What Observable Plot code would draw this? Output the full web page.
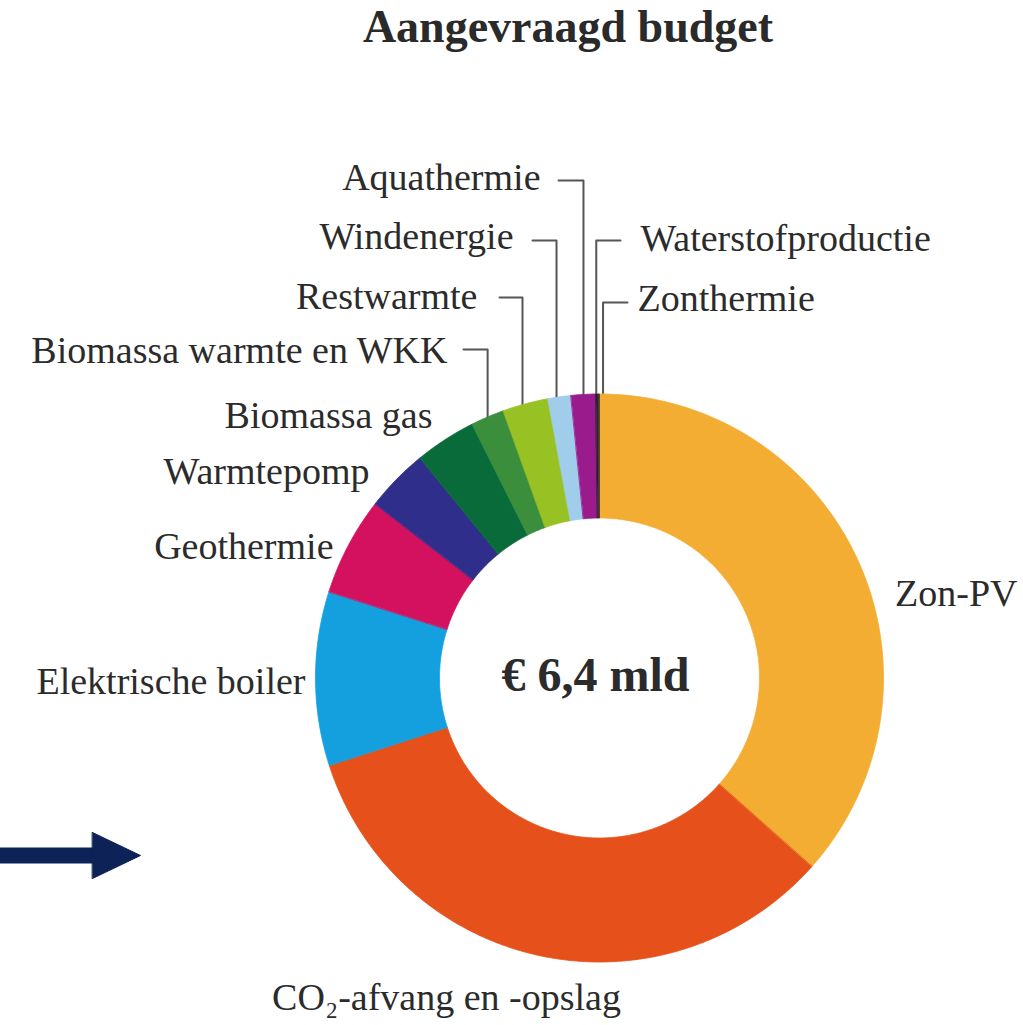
<!DOCTYPE html>
<html><head><meta charset="utf-8">
<script src="https://cdn.jsdelivr.net/npm/d3@7"></script>
<script src="https://cdn.jsdelivr.net/npm/@observablehq/plot@0.6"></script>
<style>
body{margin:0;background:#fff;width:1023px;height:1025px;overflow:hidden}
#title{height:65px;line-height:65px;font:bold 46px "Liberation Serif",serif;color:#2a2a2a;text-align:center;padding-left:113px;width:910px;white-space:nowrap}
#chart{height:960px}
</style></head><body>
<div id="title">Aangevraagd budget</div>
<div id="chart"></div>
<script>
// ---- data (share of requested budget, %) ----
const categories = ["Zon-PV","CO₂-afvang en -opslag","Elektrische boiler","Geothermie","Warmtepomp","Biomassa gas","Biomassa warmte en WKK","Restwarmte","Windenergie","Aquathermie","Waterstofproductie","Zonthermie"];
const shares = [36.6, 33.5, 9.9, 5.6, 3.6, 3.5, 1.9, 2.6, 1.3, 1.4, 0.15, 0.05];
const colors = ["#f4ad33","#e6511b","#149fdf","#d4115f","#2f2f8b","#0a6b3a","#3a8e3c","#98c224","#a0cdec","#9a1b8c","#2d1f33","#4a3b2a"];
const totalLabel = "€ 6,4 mld";

// ---- layout (page pixels) ----
const W = 1023, TOP = 65, H = 1025 - TOP;
const CX = 599, CY = 677.5, R_OUT = 284, R_IN = 160;
const labelLayout = {
  "Zon-PV": {x: 1017, y: 605, anchor: "end"},
  "CO₂-afvang en -opslag": {x: 446, y: 1009, anchor: "middle"},
  "Elektrische boiler": {x: 305, y: 693, anchor: "end"},
  "Geothermie": {x: 333, y: 558, anchor: "end"},
  "Warmtepomp": {x: 369, y: 483, anchor: "end"},
  "Biomassa gas": {x: 432, y: 427, anchor: "end"},
  "Biomassa warmte en WKK": {x: 447, y: 362, anchor: "end", leaderY: 349, leaderEnd: 463, nudge: 0},
  "Restwarmte": {x: 477, y: 308, anchor: "end", leaderY: 297, leaderEnd: 499, nudge: -3},
  "Windenergie": {x: 513, y: 248, anchor: "end", leaderY: 240, leaderEnd: 532, nudge: -3},
  "Aquathermie": {x: 540, y: 189, anchor: "end", leaderY: 180, leaderEnd: 558, nudge: 0},
  "Waterstofproductie": {x: 640, y: 250, anchor: "start", leaderY: 240, leaderEnd: 620, nudge: -1},
  "Zonthermie": {x: 637, y: 310, anchor: "start", leaderY: 302, leaderEnd: 627, nudge: 4}
};
const arrowShape = {y: 855, x0: 0, xHead: 92, xTip: 140, shaft: 16, headHalf: 23, color: "#0d2257"};

// ---- build slices from the data ----
const rows = categories.map((c, i) => ({name: c, value: shares[i], color: colors[i]}));
const arcs = d3.pie().sort(null).value(d => d.value)(rows);
const polyPts = [];
for (const a of arcs) {
  const n = Math.max(2, Math.ceil((a.endAngle - a.startAngle) / (Math.PI / 360)));
  const pts = [];
  for (let k = 0; k <= n; k++) {
    const t = a.startAngle + (a.endAngle - a.startAngle) * k / n;
    pts.push([CX + R_OUT * Math.sin(t), CY - R_OUT * Math.cos(t)]);
  }
  for (let k = n; k >= 0; k--) {
    const t = a.startAngle + (a.endAngle - a.startAngle) * k / n;
    pts.push([CX + R_IN * Math.sin(t), CY - R_IN * Math.cos(t)]);
  }
  pts.forEach(([x, y]) => polyPts.push({key: a.data.name, color: a.data.color, x, y}));
}

// leaders + labels
const leaderPts = [];
const labels = [];
for (const a of arcs) {
  const L = labelLayout[a.data.name];
  labels.push({name: a.data.name, x: L.x, y: L.y, anchor: L.anchor});
  if (L.leaderY !== undefined) {
    const mid = (a.startAngle + a.endAngle) / 2;
    const ax = CX + R_OUT * Math.sin(mid) + L.nudge;
    const ay = CY - R_OUT * Math.cos(mid) + 8;
    leaderPts.push({key: a.data.name, x: ax, y: ay});
    leaderPts.push({key: a.data.name, x: ax, y: L.leaderY});
    leaderPts.push({key: a.data.name, x: L.leaderEnd, y: L.leaderY});
  }
}

const arrowShaft = [{x: arrowShape.x0, y: arrowShape.y}, {x: arrowShape.xHead, y: arrowShape.y}];
const arrowHead = [
  {x: arrowShape.xHead, y: arrowShape.y - arrowShape.headHalf},
  {x: arrowShape.xTip, y: arrowShape.y},
  {x: arrowShape.xHead, y: arrowShape.y + arrowShape.headHalf}
];

const textColor = "#2b2b2b";
const labelText = (anchor) => Plot.text(labels.filter(d => d.anchor === anchor), {
  x: "x", y: "y", text: "name", textAnchor: anchor, fontSize: 38, fill: textColor, lineAnchor: "bottom"
});
const chart = Plot.plot({
  width: W, height: H,
  marginTop: 0, marginRight: 0, marginBottom: 0, marginLeft: 0,
  x: {domain: [0, W], range: [0, W], axis: null},
  y: {domain: [TOP, TOP + H], range: [0, H], axis: null},
  color: {type: "identity"},
  style: {background: "white", fontFamily: "'Liberation Serif', serif", overflow: "visible"},
  marks: [
    Plot.line(leaderPts, {x: "x", y: "y", z: "key", stroke: "#555", strokeWidth: 2, curve: "linear"}),
    Plot.line(polyPts, {x: "x", y: "y", z: "key", fill: "color", stroke: "color", strokeWidth: 0.8, curve: "linear-closed"}),
    labelText("end"),
    labelText("start"),
    labelText("middle"),
    Plot.text([totalLabel], {x: CX - 4, y: 690, text: d => d, textAnchor: "middle", fontSize: 48, fontWeight: "bold", fill: textColor, lineAnchor: "bottom"}),
    Plot.line(arrowShaft, {x: "x", y: "y", stroke: arrowShape.color, strokeWidth: arrowShape.shaft}),
    Plot.line(arrowHead, {x: "x", y: "y", fill: arrowShape.color, stroke: arrowShape.color, strokeWidth: 1, curve: "linear-closed"})
  ]
});
document.getElementById("chart").appendChild(chart);
</script>
</body></html>
